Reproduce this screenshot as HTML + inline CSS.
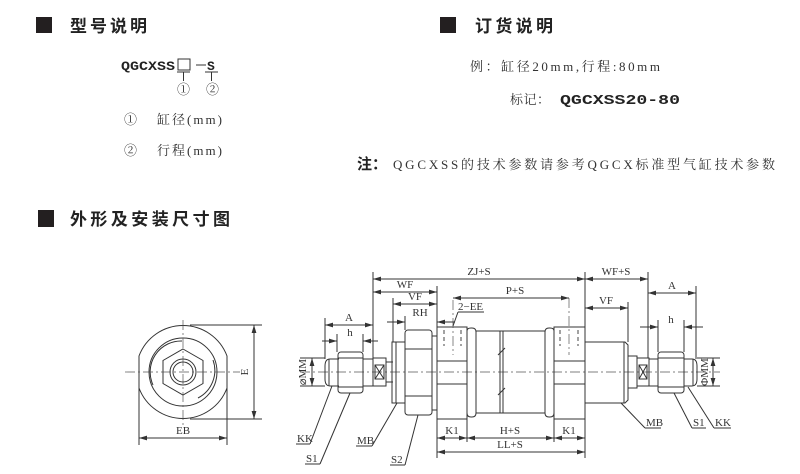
<!DOCTYPE html>
<html><head><meta charset="utf-8"><style>
html,body{margin:0;padding:0;background:#fff;}
svg{display:block;}
.h{font-family:"Liberation Sans","Noto Sans CJK SC",sans-serif;font-size:17px;fill:#222;font-weight:bold}
.t{font-family:"Liberation Serif","Noto Serif CJK SC",serif;font-size:13px;fill:#333}
.m{font-family:"Liberation Mono","Noto Sans CJK SC",monospace;font-size:14px;fill:#222;font-weight:bold}
.d{font-family:"Liberation Serif",serif;font-size:11px;fill:#333}
.s{stroke:#333;stroke-width:1;fill:none}
.c{stroke:#555;stroke-width:0.7;fill:none;stroke-dasharray:10 3 2 3}
.dash{stroke:#444;stroke-width:1;fill:none;stroke-dasharray:4 3}
</style></head><body>
<svg width="800" height="474" viewBox="0 0 800 474" xmlns="http://www.w3.org/2000/svg">
<defs>
<marker id="a" viewBox="0 0 10 6" refX="10" refY="3" markerWidth="8" markerHeight="5" orient="auto-start-reverse"><path d="M0,0 L10,3 L0,6 z" fill="#333"/></marker>
</defs>
<!-- headers -->
<rect x="36" y="17" width="16" height="16" fill="#231f20"/>
<text x="70" y="32" class="h" textLength="77" lengthAdjust="spacing">型号说明</text>
<rect x="440" y="17" width="16" height="16" fill="#231f20"/>
<text x="475" y="32" class="h" textLength="78" lengthAdjust="spacing">订货说明</text>
<rect x="38" y="210" width="16" height="17" fill="#231f20"/>
<text x="70" y="225" class="h" textLength="160" lengthAdjust="spacing">外形及安装尺寸图</text>

<text x="121" y="70" class="m" style="font-size:13px" textLength="54" lengthAdjust="spacingAndGlyphs">QGCXSS</text>
<rect x="178" y="59" width="12" height="11" class="s"/>
<line x1="196" y1="65" x2="206" y2="65" class="s"/>
<text x="207" y="70" class="m" style="font-size:13px">S</text>
<line x1="177" y1="72" x2="190" y2="72" class="s"/><line x1="183.5" y1="72" x2="183.5" y2="81" class="s"/>
<line x1="205" y1="72" x2="218" y2="72" class="s"/><line x1="211.5" y1="72" x2="211.5" y2="81" class="s"/>
<text x="177" y="94" class="t">①</text><text x="206" y="94" class="t">②</text>
<text x="124" y="124" class="t">①</text><text x="157" y="124" class="t" textLength="65" lengthAdjust="spacing">缸径(mm)</text>
<text x="124" y="155" class="t">②</text><text x="157" y="155" class="t" textLength="65" lengthAdjust="spacing">行程(mm)</text>

<text x="470" y="71" class="t" textLength="190" lengthAdjust="spacing">例：缸径20mm,行程:80mm</text>
<text x="510" y="104" class="t" textLength="40" lengthAdjust="spacing">标记：</text>
<text x="560" y="104" class="m" style="font-size:14px" textLength="120" lengthAdjust="spacingAndGlyphs">QGCXSS20-80</text>
<text x="357" y="169" style="font-weight:bold;font-family:'Liberation Sans','Noto Sans CJK SC',sans-serif;font-size:15px;fill:#222">注：</text>
<text x="393" y="169" class="t" textLength="382" lengthAdjust="spacing">QGCXSS的技术参数请参考QGCX标准型气缸技术参数</text>

<!-- left view -->
<g>
<path d="M139,356 A47,47 0 0 1 227,356 L227,388 A47,47 0 0 1 139,388 Z" class="s"/>
<circle cx="183" cy="372" r="34" class="s"/>
<path d="M153,385 A31,31 0 0 1 182,341" class="s"/>
<path d="M213,360 A31,31 0 0 1 198,398" class="s"/>
<polygon points="183,349 203,360.5 203,383.5 183,395 163,383.5 163,360.5" class="s"/>
<circle cx="183" cy="372" r="13" class="s"/>
<circle cx="183" cy="372" r="10" class="s"/>
<line x1="125" y1="372" x2="240" y2="372" class="c"/>
<line x1="183" y1="320" x2="183" y2="425" class="c"/>
<line x1="190" y1="325" x2="262" y2="325" class="s"/>
<line x1="190" y1="419" x2="262" y2="419" class="s"/>
<line x1="254" y1="325" x2="254" y2="419" class="s" marker-start="url(#a)" marker-end="url(#a)"/>
<text x="248" y="372" class="d" transform="rotate(-90 248 372)" text-anchor="middle">E</text>
<line x1="139" y1="388" x2="139" y2="445" class="s"/><line x1="227" y1="388" x2="227" y2="445" class="s"/>
<line x1="139" y1="438" x2="227" y2="438" class="s" marker-start="url(#a)" marker-end="url(#a)"/>
<text x="183" y="434" class="d" text-anchor="middle">EB</text>
</g>

<!-- side view -->
<g>
<line x1="300" y1="372" x2="720" y2="372" class="c"/>
<path d="M339,359 L330,359 Q325,359 325,366 L325,379 Q325,386 330,386 L339,386" class="s"/>
<line x1="329" y1="359" x2="329" y2="386" class="s"/>
<rect x="338" y="352" width="25" height="41" rx="3" class="s"/>
<line x1="338" y1="358" x2="363" y2="358" class="s"/><line x1="338" y1="387" x2="363" y2="387" class="s"/>
<line x1="363" y1="359" x2="373" y2="359" class="s"/><line x1="363" y1="386" x2="373" y2="386" class="s"/>
<rect x="373" y="358" width="13" height="28" class="s"/>
<rect x="375" y="365" width="9" height="14" class="s"/>
<path d="M375,365 L384,379 M384,365 L375,379" class="s"/>
<line x1="386" y1="362" x2="393" y2="362" class="s"/><line x1="386" y1="382" x2="393" y2="382" class="s"/>
<rect x="392" y="342" width="13" height="61" class="s"/>
<line x1="396" y1="342" x2="396" y2="403" class="s"/>
<rect x="405" y="330" width="27" height="85" rx="3" class="s"/>
<line x1="405" y1="349" x2="432" y2="349" class="s"/><line x1="405" y1="396" x2="432" y2="396" class="s"/>
<rect x="432" y="336" width="5" height="74" class="s"/>
<rect x="437" y="327" width="30" height="92" class="s"/>
<line x1="437" y1="361" x2="467" y2="361" class="s"/><line x1="437" y1="384" x2="467" y2="384" class="s"/>
<line x1="444" y1="330" x2="444" y2="346" class="dash"/><line x1="461" y1="330" x2="461" y2="346" class="dash"/>
<line x1="453" y1="300" x2="453" y2="355" class="c"/>
<path d="M467,331 Q467,328 471,328 L472,328 Q476,328 476,332 L476,413 Q476,417 472,417 L471,417 Q467,417 467,413" class="s"/>
<rect x="476" y="331" width="69" height="82" class="s"/>
<path d="M554,331 Q554,328 550,328 L549,328 Q545,328 545,332 L545,413 Q545,417 549,417 L550,417 Q554,417 554,413" class="s"/>
<line x1="500" y1="331" x2="500" y2="413" class="s"/><line x1="503" y1="331" x2="503" y2="413" class="s"/>
<line x1="498" y1="355" x2="505" y2="348" class="s"/><line x1="498" y1="395" x2="505" y2="388" class="s"/>
<rect x="554" y="327" width="31" height="92" class="s"/>
<line x1="554" y1="361" x2="585" y2="361" class="s"/><line x1="554" y1="384" x2="585" y2="384" class="s"/>
<line x1="560" y1="330" x2="560" y2="346" class="dash"/><line x1="578" y1="330" x2="578" y2="346" class="dash"/>
<line x1="569" y1="298" x2="569" y2="355" class="c"/>
<path d="M585,342 L625,342 L628,345 L628,400 L625,403 L585,403" class="s"/>
<line x1="624" y1="342" x2="624" y2="403" class="s"/>
<rect x="628" y="356" width="9" height="32" class="s"/>
<rect x="637" y="358" width="12" height="28" class="s"/>
<rect x="639" y="365" width="8" height="14" class="s"/>
<path d="M639,365 L647,379 M647,365 L639,379" class="s"/>
<line x1="649" y1="359" x2="658" y2="359" class="s"/><line x1="649" y1="386" x2="658" y2="386" class="s"/>
<rect x="658" y="352" width="26" height="41" rx="3" class="s"/>
<line x1="658" y1="358" x2="684" y2="358" class="s"/><line x1="658" y1="387" x2="684" y2="387" class="s"/>
<path d="M684,359 L692,359 Q697,359 697,366 L697,379 Q697,386 692,386 L684,386" class="s"/>
<line x1="693" y1="359" x2="693" y2="386" class="s"/>

<line x1="373" y1="272" x2="373" y2="358" class="s"/>
<line x1="585" y1="272" x2="585" y2="327" class="s"/>
<line x1="437" y1="286" x2="437" y2="327" class="s"/>
<line x1="393" y1="298" x2="393" y2="342" class="s"/>
<line x1="405" y1="316" x2="405" y2="330" class="s"/>
<line x1="325" y1="318" x2="325" y2="359" class="s"/>
<line x1="337" y1="334" x2="337" y2="352" class="s"/><line x1="363" y1="334" x2="363" y2="352" class="s"/>
<line x1="648" y1="272" x2="648" y2="358" class="s"/>
<line x1="628" y1="302" x2="628" y2="342" class="s"/>
<line x1="696" y1="286" x2="696" y2="359" class="s"/>
<line x1="658" y1="320" x2="658" y2="352" class="s"/><line x1="684" y1="320" x2="684" y2="352" class="s"/>
<line x1="300" y1="358" x2="325" y2="358" class="s"/><line x1="300" y1="386" x2="325" y2="386" class="s"/>
<line x1="697" y1="358" x2="720" y2="358" class="s"/><line x1="697" y1="386" x2="720" y2="386" class="s"/>
<line x1="437" y1="419" x2="437" y2="458" class="s"/><line x1="467" y1="419" x2="467" y2="442" class="s"/>
<line x1="554" y1="419" x2="554" y2="442" class="s"/><line x1="585" y1="419" x2="585" y2="458" class="s"/>

<line x1="373" y1="279" x2="585" y2="279" class="s" marker-start="url(#a)" marker-end="url(#a)"/>
<text x="479" y="275" class="d" text-anchor="middle">ZJ+S</text>
<line x1="373" y1="292" x2="437" y2="292" class="s" marker-start="url(#a)" marker-end="url(#a)"/>
<text x="405" y="288" class="d" text-anchor="middle">WF</text>
<line x1="393" y1="304" x2="437" y2="304" class="s" marker-start="url(#a)" marker-end="url(#a)"/>
<text x="415" y="300" class="d" text-anchor="middle">VF</text>
<line x1="387" y1="322" x2="405" y2="322" class="s" marker-end="url(#a)"/>
<line x1="455" y1="322" x2="437" y2="322" class="s" marker-end="url(#a)"/>
<text x="420" y="316" class="d" text-anchor="middle">RH</text>
<line x1="453" y1="298" x2="569" y2="298" class="s" marker-start="url(#a)" marker-end="url(#a)"/>
<text x="515" y="294" class="d" text-anchor="middle">P+S</text>
<text x="458" y="310" class="d">2−EE</text>
<line x1="458" y1="312" x2="484" y2="312" class="s"/>
<line x1="458" y1="312" x2="453" y2="326" class="s"/>
<line x1="325" y1="325" x2="373" y2="325" class="s" marker-start="url(#a)" marker-end="url(#a)"/>
<text x="349" y="321" class="d" text-anchor="middle">A</text>
<line x1="322" y1="341" x2="337" y2="341" class="s" marker-end="url(#a)"/>
<line x1="378" y1="341" x2="363" y2="341" class="s" marker-end="url(#a)"/>
<text x="350" y="336" class="d" text-anchor="middle">h</text>
<line x1="312" y1="358" x2="312" y2="386" class="s" marker-start="url(#a)" marker-end="url(#a)"/>
<text x="306" y="372" class="d" transform="rotate(-90 306 372)" text-anchor="middle">⌀MM</text>
<line x1="585" y1="279" x2="648" y2="279" class="s" marker-start="url(#a)" marker-end="url(#a)"/>
<text x="616" y="275" class="d" text-anchor="middle">WF+S</text>
<line x1="585" y1="308" x2="628" y2="308" class="s" marker-start="url(#a)" marker-end="url(#a)"/>
<text x="606" y="304" class="d" text-anchor="middle">VF</text>
<line x1="648" y1="293" x2="696" y2="293" class="s" marker-start="url(#a)" marker-end="url(#a)"/>
<text x="672" y="289" class="d" text-anchor="middle">A</text>
<line x1="640" y1="327" x2="658" y2="327" class="s" marker-end="url(#a)"/>
<line x1="703" y1="327" x2="684" y2="327" class="s" marker-end="url(#a)"/>
<text x="671" y="323" class="d" text-anchor="middle">h</text>
<line x1="713" y1="358" x2="713" y2="386" class="s" marker-start="url(#a)" marker-end="url(#a)"/>
<text x="708" y="372" class="d" transform="rotate(-90 708 372)" text-anchor="middle">ΦMM</text>
<line x1="437" y1="438" x2="467" y2="438" class="s" marker-start="url(#a)" marker-end="url(#a)"/>
<text x="452" y="434" class="d" text-anchor="middle">K1</text>
<line x1="467" y1="438" x2="554" y2="438" class="s" marker-start="url(#a)" marker-end="url(#a)"/>
<text x="510" y="434" class="d" text-anchor="middle">H+S</text>
<line x1="554" y1="438" x2="585" y2="438" class="s" marker-start="url(#a)" marker-end="url(#a)"/>
<text x="569" y="434" class="d" text-anchor="middle">K1</text>
<line x1="437" y1="452" x2="585" y2="452" class="s" marker-start="url(#a)" marker-end="url(#a)"/>
<text x="510" y="448" class="d" text-anchor="middle">LL+S</text>

<line x1="332" y1="386" x2="310" y2="444" class="s"/><line x1="296" y1="444" x2="310" y2="444" class="s"/>
<text x="297" y="442" class="d">KK</text>
<line x1="350" y1="393" x2="320" y2="464" class="s"/><line x1="305" y1="464" x2="320" y2="464" class="s"/>
<text x="306" y="462" class="d">S1</text>
<line x1="397" y1="403" x2="372" y2="446" class="s"/><line x1="356" y1="446" x2="372" y2="446" class="s"/>
<text x="357" y="444" class="d">MB</text>
<line x1="418" y1="415" x2="405" y2="465" class="s"/><line x1="390" y1="465" x2="405" y2="465" class="s"/>
<text x="391" y="463" class="d">S2</text>
<line x1="621" y1="403" x2="645" y2="428" class="s"/><line x1="645" y1="428" x2="661" y2="428" class="s"/>
<text x="646" y="426" class="d">MB</text>
<line x1="674" y1="393" x2="692" y2="428" class="s"/><line x1="692" y1="428" x2="706" y2="428" class="s"/>
<text x="693" y="426" class="d">S1</text>
<line x1="688" y1="387" x2="714" y2="428" class="s"/><line x1="714" y1="428" x2="731" y2="428" class="s"/>
<text x="715" y="426" class="d">KK</text>
</g>
</svg>
</body></html>
